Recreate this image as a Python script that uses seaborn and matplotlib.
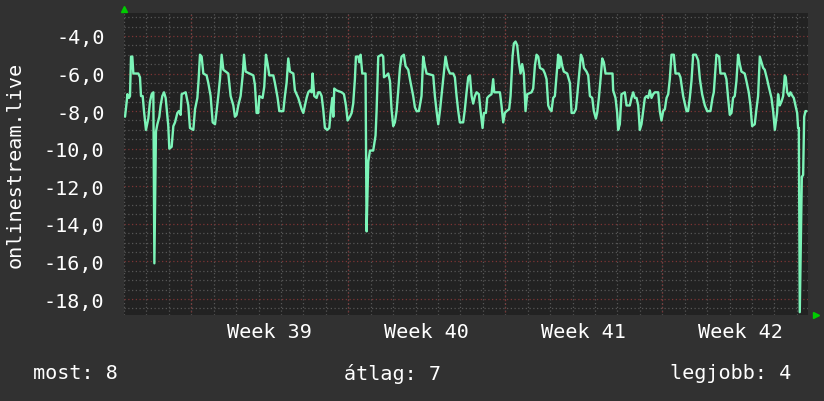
import numpy as np
import pandas as pd
import seaborn as sns
import matplotlib.pyplot as plt
from matplotlib.ticker import MultipleLocator

# hours since start of graph window, and value
hours = [
    1.1, 2.9, 3.6, 5.3, 6.4, 7.5, 8.9, 10.0, 15.3, 17.1, 18.2, 20.0, 21.4, 23.5, 26.0, 27.8,
    29.6, 31.4, 32.5, 34.2, 35.7, 37.8, 39.2, 41.0, 42.8, 44.6, 47.4, 48.5, 51.0, 52.8, 54.6,
    57.1, 58.8, 60.6, 61.7, 66.0, 68.8, 70.6, 74.2, 76.0, 78.5, 79.9, 81.3, 83.1, 84.9, 88.4,
    90.2, 92.7, 94.9, 97.4, 99.1, 100.9, 102.7, 104.5, 106.3, 111.6, 114.1, 117.0, 118.7,
    120.5, 122.3, 124.8, 127.0, 128.4, 130.2, 138.4, 140.1, 141.9, 143.7, 144.8, 148.3,
    150.1, 151.9, 153.7, 155.5, 159.8, 161.5, 164.4, 166.2, 170.5, 172.2, 174.0, 175.8,
    177.6, 181.2, 182.9, 186.5, 190.1, 191.9, 193.7, 195.4, 197.2, 199.0, 200.8, 201.8,
    203.6, 206.1, 207.9, 209.7, 211.5, 213.2, 215.0, 217.5, 219.7, 221.1, 222.9, 224.0,
    225.0, 227.5, 232.9, 235.4, 237.5, 239.3, 241.8, 243.6, 245.3, 247.1, 248.2, 250.7,
    251.8, 253.2, 255.0, 258.5, 259.6, 261.4, 263.2, 266.7, 269.2, 270.3, 272.1, 275.7,
    277.4, 278.2, 281.0, 282.8, 284.6, 286.3, 288.1, 289.9, 291.7, 293.5, 295.3, 297.0,
    299.5, 301.3, 304.2, 306.0, 309.5, 311.3, 313.1, 315.6, 318.4, 320.2, 322.0, 323.8,
    330.9, 332.7, 334.5, 336.3, 338.1, 339.8, 341.6, 344.1, 346.3, 348.8, 352.3, 354.1,
    355.9, 357.7, 359.4, 363.0, 364.8, 366.6, 368.4, 370.2,
    372.0, 373.7, 375.5, 377.3, 379.8, 381.6, 383.7, 385.2, 387.3, 388.7, 390.5, 393.3,
    395.1, 396.2, 398.0, 402.3, 404.0, 405.8, 407.6, 409.4, 412.2, 413.7, 415.8, 417.2,
    419.0, 420.8, 422.6, 424.4, 426.1, 427.9, 429.7, 431.5, 436.1, 437.9, 439.7, 441.5,
    443.3, 445.1, 448.6, 450.4, 452.2, 454.0, 455.7, 457.5, 459.3, 461.1, 463.6, 464.7,
    465.7, 467.2, 469.0, 470.7, 474.3, 477.2, 479.0, 481.5, 483.6, 485.0, 487.2, 489.0,
    490.7, 492.2, 495.0, 496.8, 498.6, 501.1, 502.8, 505.0, 506.4, 508.2, 510.0, 511.8,
    513.5, 515.3, 520.0, 522.8, 523.5, 526.0, 527.8, 528.8, 530.6, 532.4, 536.0, 537.8,
    541.3, 543.1, 544.9, 546.7, 548.5, 550.3, 552.0, 553.8, 555.6, 557.4, 559.2, 561.0,
    562.7, 564.5, 566.3, 568.1, 571.7, 573.4, 575.2, 577.0, 578.8, 580.6, 582.4, 584.1,
    585.9, 588.4, 590.2, 593.8, 595.5, 598.4, 600.2, 602.0, 603.7, 605.5, 607.3, 609.1,
    612.0, 614.5, 616.3, 618.7, 621.6, 624.1, 627.6, 629.8, 631.2, 633.0, 634.0, 636.9,
    638.3, 642.9, 644.7, 646.5, 648.3, 650.1, 651.8, 653.6, 655.4, 657.2, 659.0, 660.8,
    664.3, 666.1, 668.6, 670.4, 672.2, 675.0, 676.8, 678.6, 680.4, 682.2, 684.0, 685.7,
    688.2, 690.0, 692.9, 694.7, 696.5, 698.9, 700.0, 701.8, 703.6, 705.4, 707.2, 708.2,
    709.7, 711.8, 713.2, 715.4, 716.8, 718.6, 720.4, 721.4, 722.2, 723.2, 725.4, 726.8,
    727.9, 729.3, 730.4,
]
values = [
    -8.3, -7.5, -7.1, -7.3, -7.2, -5.1, -5.1, -6.0, -6.0, -6.2, -7.2, -7.2, -8.0, -9.0, -8.4, -7.5,
    -7.1, -7.0, -16.1, -9.1, -8.7, -8.3, -7.7, -7.2, -7.0, -7.3, -8.8, -10.0, -9.9, -8.8, -8.6,
    -8.1, -8.0, -8.2, -7.1, -7.0, -7.7, -8.9, -9.0, -7.9, -7.3, -6.3, -5.0, -5.1, -6.0, -6.1,
    -6.5, -7.2, -8.6, -8.7, -8.0, -7.2, -6.3, -5.0, -5.8, -6.0, -7.2, -7.7, -8.3,
    -8.2, -7.7, -7.2, -6.1, -5.0, -5.9, -6.1, -6.6, -8.1, -8.1, -7.2, -7.3,
    -6.7, -5.0, -5.5, -6.1, -6.1, -6.5, -7.3, -8.0, -8.0, -7.2, -6.5, -5.2,
    -5.9, -6.0, -6.9, -7.3, -7.9, -8.1, -7.7, -7.3, -7.0, -6.9, -7.0, -6.0,
    -7.2, -7.3, -7.0, -7.0, -7.2, -7.9, -8.9, -9.0, -8.9, -8.1, -7.3, -8.3,
    -6.8, -6.9, -7.0, -7.1, -7.7, -8.5, -8.3, -8.1, -7.6, -6.3, -5.1, -5.1,
    -5.4, -5.0, -6.0, -6.0, -14.4, -10.7, -10.1, -10.1, -9.3, -8.0, -5.1, -5.0,
    -5.1, -6.2, -6.1, -6.0, -6.4, -7.9, -8.8, -8.6, -8.0, -6.9, -5.7, -5.1,
    -5.0, -5.6, -5.8, -6.3, -7.2, -7.8, -8.0, -8.0, -7.2, -5.1, -5.6, -6.0,
    -6.1, -7.2, -8.0, -8.7, -8.0, -7.2, -6.3, -5.1, -5.7, -6.0, -6.0, -6.2,
    -7.2, -8.0, -8.6, -8.6, -7.9, -7.0, -6.2, -6.1,
    -7.2, -7.6, -7.2, -7.0, -7.1, -8.0, -8.9, -8.1, -8.1, -7.3, -7.2, -7.1,
    -6.3, -7.0, -7.0, -7.0, -7.7, -8.6, -8.1, -8.0, -7.9, -7.2, -5.1, -4.4,
    -4.3, -4.5, -5.4, -6.0, -5.5, -6.0, -8.0, -7.1, -7.0, -6.8, -5.6, -5.0,
    -5.1, -5.7, -5.8, -6.0, -6.3, -7.7, -7.9, -8.0, -7.3, -7.2, -5.7, -5.0,
    -5.7, -5.1, -5.6, -5.9, -6.0, -6.5, -8.1, -8.1, -7.9, -7.2, -6.0, -5.0,
    -5.2, -5.7, -5.9, -6.1, -7.2, -7.3, -8.0, -8.4, -8.1, -7.3, -6.3, -5.2,
    -5.4, -6.0, -6.0, -6.0, -6.9, -7.3, -8.1, -9.0, -8.7, -7.1, -7.0, -7.7,
    -7.7, -7.3, -7.0, -7.3, -7.3, -7.7, -9.0, -8.7, -8.0, -7.3, -7.2, -7.3,
    -6.9, -7.3, -7.1, -7.0, -7.0, -8.0, -8.5, -8.0, -7.9, -7.3, -7.1, -6.3,
    -5.0, -5.0, -6.0, -6.0, -6.2, -7.2, -7.6, -8.0, -8.0, -7.3, -6.4, -5.0,
    -5.0, -5.3, -6.3, -7.1, -7.7, -8.0, -8.0, -7.3, -7.0, -5.7, -5.0, -5.1,
    -6.0, -6.0, -6.3, -7.3, -8.2, -8.1, -7.3, -7.2, -6.4, -5.0, -5.5, -5.9,
    -6.0, -6.4, -7.0, -7.7, -8.8, -8.7, -7.9, -7.2, -5.1, -5.4, -5.7, -5.8,
    -6.3, -6.7, -7.3, -8.0, -9.0, -8.1, -7.1, -7.7, -7.5, -7.2, -6.1, -6.2,
    -7.0, -7.2, -7.0, -7.2, -7.3, -7.7, -8.1, -8.9, -8.9, -18.7, -11.5, -11.4,
    -8.3, -8.0, -8.0,
]

week_starts = [72, 240, 408, 576]
week_label_pos = [156, 324, 492, 660]
week_labels = ["Week 39", "Week 40", "Week 41", "Week 42"]
y_ticks = [-4, -6, -8, -10, -12, -14, -16, -18]
y_labels = ["-4,0", "-6,0", "-8,0", "-10,0", "-12,0", "-14,0", "-16,0", "-18,0"]
legend_texts = ["most: 8", "átlag: 7", "legjobb: 4"]

df = pd.DataFrame({"hour": hours, "value": values})

sns.set_theme(style="dark")
plt.rcParams["font.family"] = ["DejaVu Sans Mono", "DejaVu Sans"]

bg = "#313131"
plot_bg = "#222222"
line_c = "#7cf4b8"
minor_c = "#565656"
major_c = "#7d3434"

fig = plt.figure(figsize=(8.24, 4.02), dpi=100, facecolor=bg)
ax = fig.add_axes([124 / 824, 1 - 316 / 402, 684 / 824, 302 / 402])
ax.set_facecolor(plot_bg)

# grid
ax.yaxis.set_minor_locator(MultipleLocator(0.5))
ax.xaxis.set_minor_locator(MultipleLocator(24))
ax.grid(which="minor", color=minor_c, linestyle=(0, (1, 2)), linewidth=0.9)
ax.grid(which="major", axis="y", color=major_c, linestyle=(0, (1, 2)), linewidth=0.9)
ax.vlines(week_starts, -30, 0, colors=major_c, linestyles=(0, (1, 2)), linewidth=0.9, zorder=0.6)

sns.lineplot(data=df, x="hour", y="value", ax=ax, color=line_c, linewidth=1.7,
             estimator=None, sort=False, zorder=3)

ax.set_xlim(0, 732)
ax.set_ylim(-18.85, -2.78)
ax.set_yticks(y_ticks, y_labels)
ax.set_xticks(week_label_pos, week_labels)
ax.tick_params(axis="both", which="major", length=0, colors="white", labelsize=14.5)
ax.tick_params(axis="y", pad=14)
ax.tick_params(axis="x", pad=5)
ax.tick_params(axis="x", which="minor", length=3, color=minor_c, direction="out")
ax.set_xlabel("")
ax.set_ylabel("onlinestream.live", color="white", fontsize=14.5)
ax.yaxis.set_label_coords(-0.146, 0.5)
for s in ax.spines.values():
    s.set_visible(False)

# rrdtool style arrow markers
ax.plot([0], [1.012], marker="^", color="#00cc00", markersize=5, transform=ax.transAxes, clip_on=False)
ax.plot([1.012], [0.0], marker=">", color="#00cc00", markersize=5, transform=ax.transAxes, clip_on=False)

fig.text(33 / 824, 1 - 374 / 402, legend_texts[0], color="white", fontsize=14.5, ha="left", va="center")
fig.text(392 / 824, 1 - 374 / 402, legend_texts[1], color="white", fontsize=14.5, ha="center", va="center")
fig.text(791 / 824, 1 - 374 / 402, legend_texts[2], color="white", fontsize=14.5, ha="right", va="center")

plt.savefig("out.png", dpi=100, facecolor=bg)
